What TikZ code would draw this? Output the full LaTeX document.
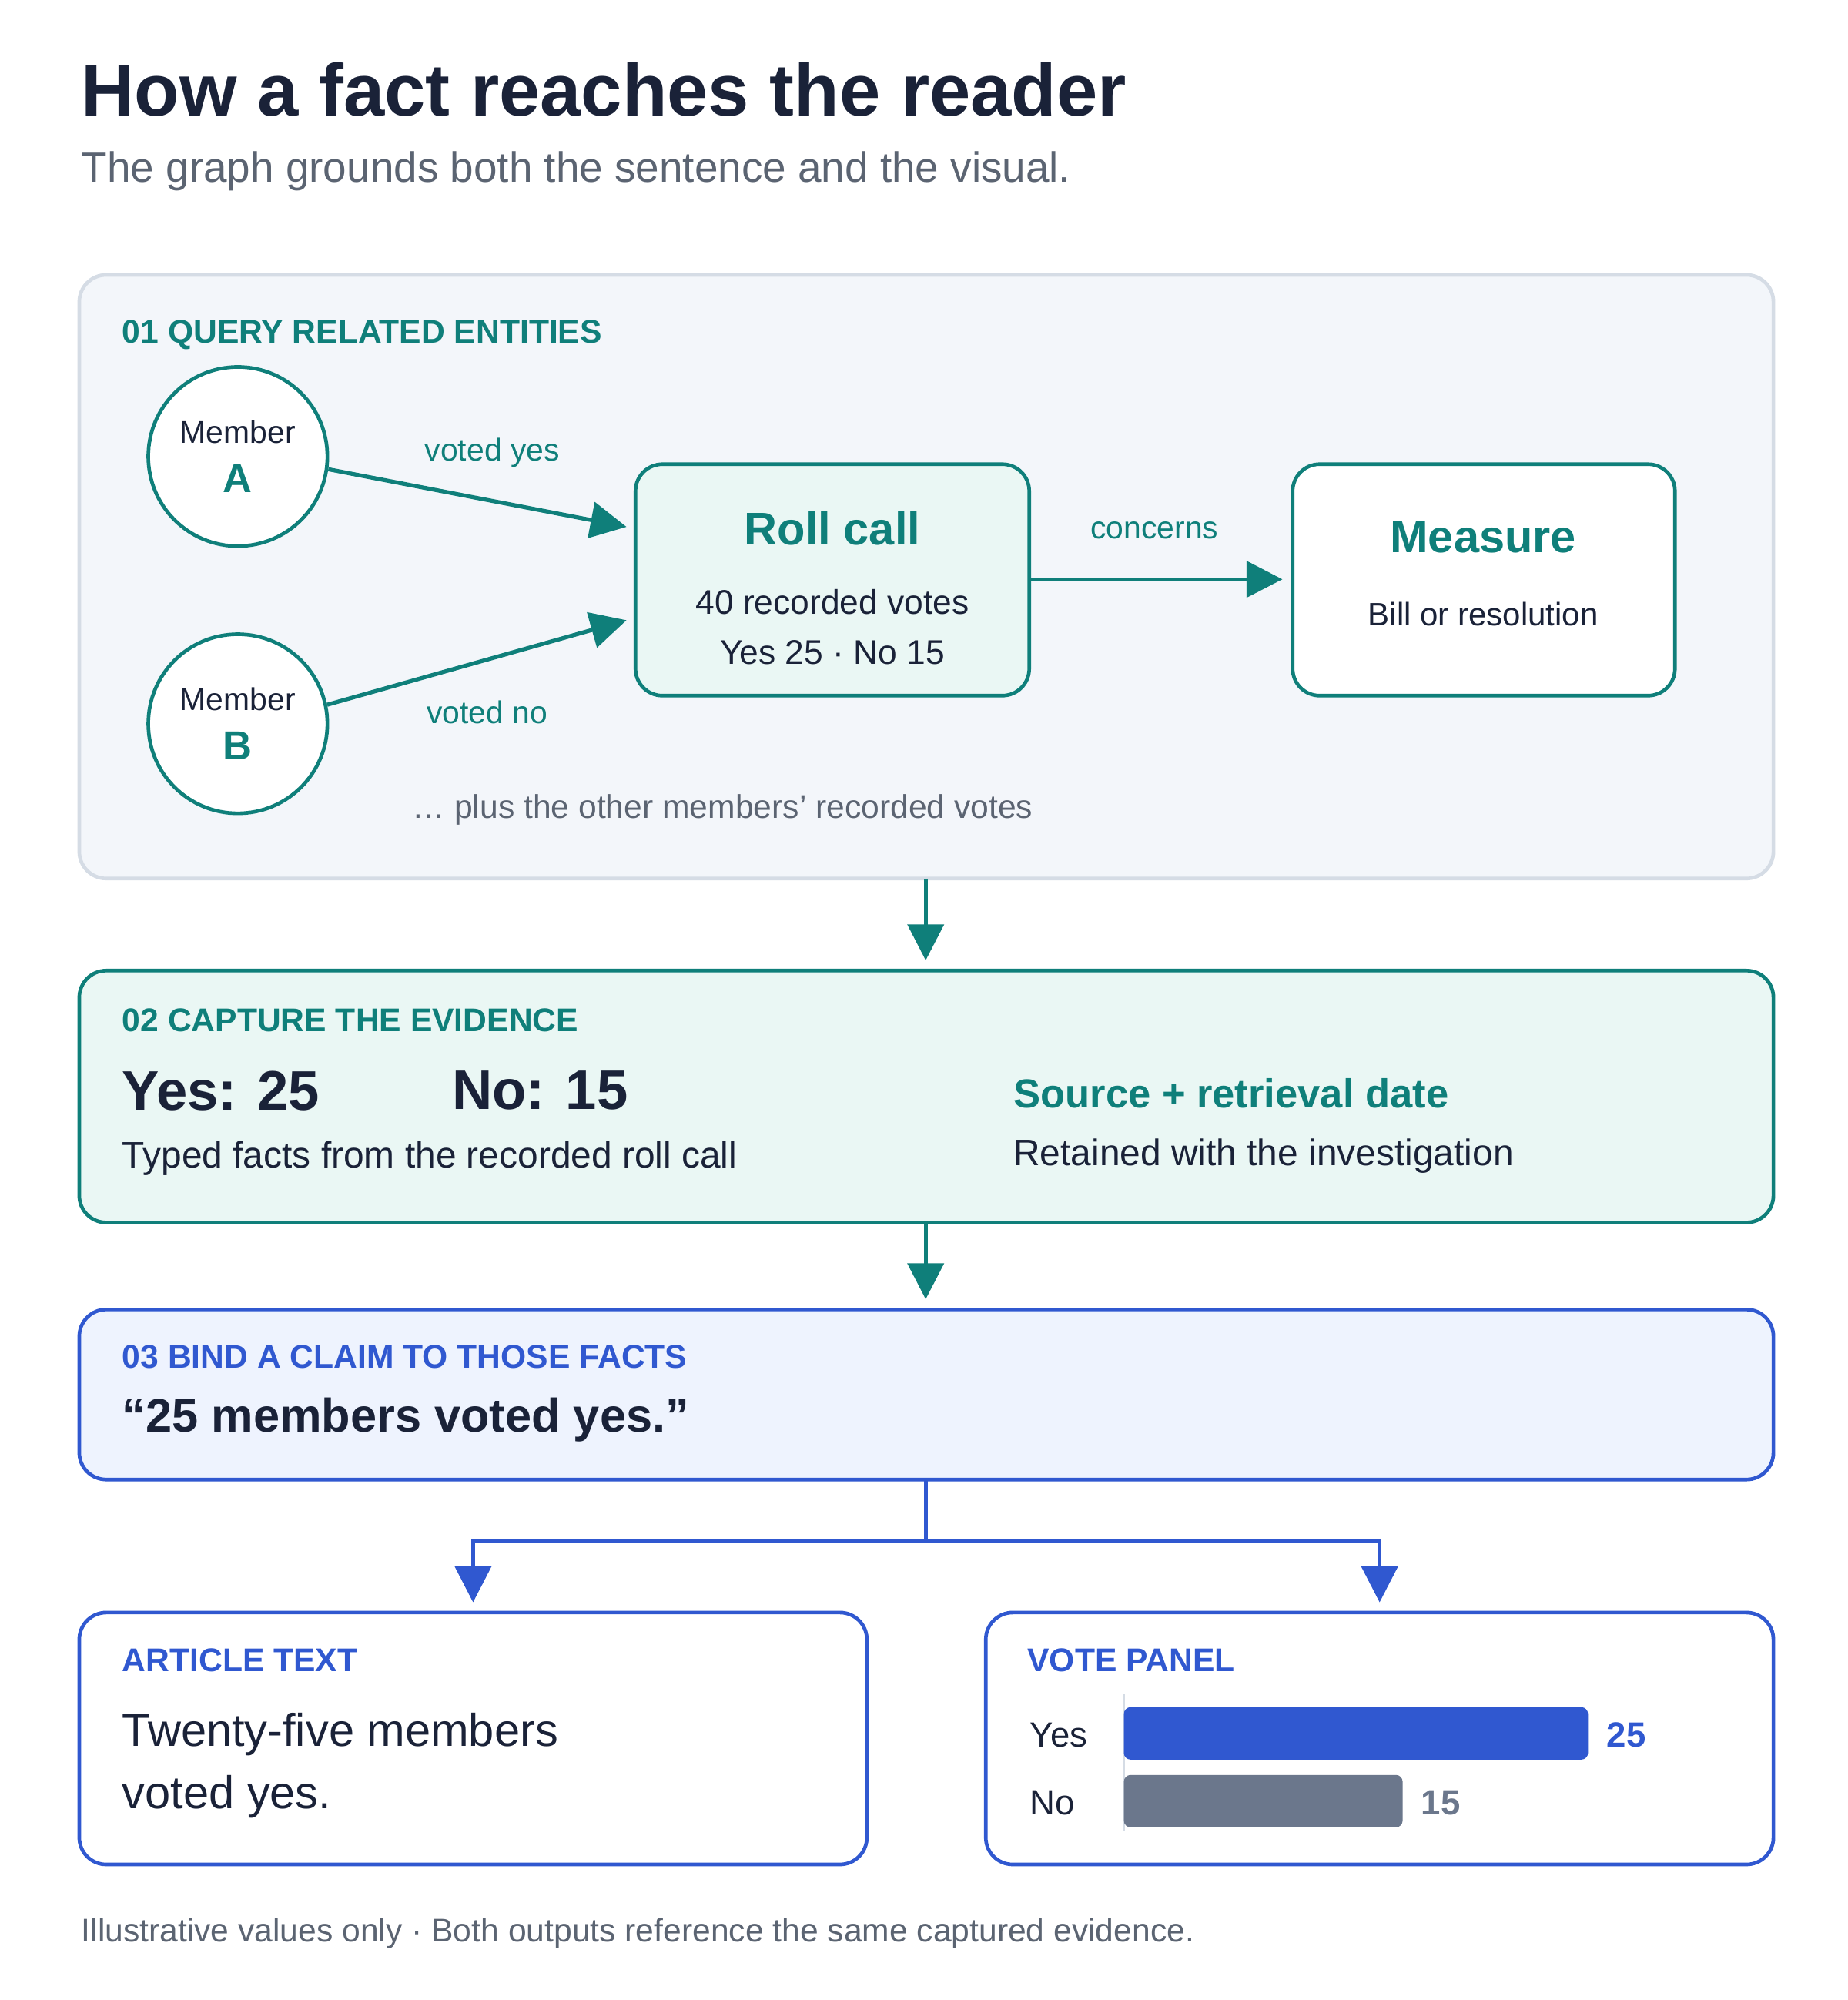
\documentclass[tikz,border=0pt]{standalone}
\usepackage{fontspec}
\setmainfont{Liberation Sans}
\usetikzlibrary{arrows.meta,positioning}
\definecolor{ink}{HTML}{1A2238}
\definecolor{mute}{HTML}{5B6472}
\definecolor{teal}{HTML}{0F7F7A}
\definecolor{tealbg}{HTML}{EAF7F4}
\definecolor{panel}{HTML}{F3F6FA}
\definecolor{edge}{HTML}{D5DCE5}
\definecolor{blu}{HTML}{3058D0}
\definecolor{blubg}{HTML}{EEF3FE}
\definecolor{bargray}{HTML}{6B778C}
\newcommand{\fsz}[1]{\fontsize{#1pt}{#1pt}\selectfont}
\tikzset{
  stage/.style={draw, rounded corners=6pt, line width=0.8pt},
  entity/.style={circle, draw=teal, line width=0.8pt, fill=white, minimum size=1.4cm, inner sep=0pt, align=center, text=ink},
  flow/.style={-{Triangle[length=8pt,width=8pt]}, line width=0.9pt},
  tag/.style={anchor=west, font=\fsz{7.3}\bfseries, inner sep=0pt},
  txt/.style={anchor=west, inner sep=0pt, text=ink},
}
\begin{document}
\begin{tikzpicture}[x=0.01cm, y=-0.01cm]
	\useasboundingbox[fill=white] (0,0) rectangle (1445,1564);
	% title
	\node[txt, font=\fsz{16.4}\bfseries] (title) at (63,70) {How a fact reaches the reader};
	\node[txt, text=mute, font=\fsz{9.4}] (subtitle) at (63,134) {The graph grounds both the sentence and the visual.};
	
	% stage 1
	\draw[stage, draw=edge, fill=panel] (62,215) rectangle (1387,687);
	\node[tag, text=teal] (t1) at (95,262) {01 QUERY RELATED ENTITIES};
	\node[entity] (memA) at (186,357) {\fsz{7}Member\\[-1pt]{\fsz{9}\bfseries\color{teal}A}};
	\node[entity] (memB) at (186,566) {\fsz{7}Member\\[-1pt]{\fsz{9}\bfseries\color{teal}B}};
	\draw[stage, draw=teal, fill=tealbg] (497,363) rectangle (805,544);
	\node[inner sep=0pt, text=teal, font=\fsz{10.2}\bfseries] (roll) at (651,413) {Roll call};
	\node[inner sep=0pt, text=ink, font=\fsz{7.6}] (rollv) at (651,471) {40 recorded votes};
	\node[inner sep=0pt, text=ink, font=\fsz{7.6}] (rolls) at (651,510) {Yes 25 · No 15};
	\draw[stage, draw=teal, fill=white] (1011,363) rectangle (1310,544);
	\node[inner sep=0pt, text=teal, font=\fsz{10.2}\bfseries] (meas) at (1160,420) {Measure};
	\node[inner sep=0pt, text=ink, font=\fsz{7.2}] (measv) at (1160,480) {Bill or resolution};
	\coordinate (rollA) at (490,412);
	\coordinate (rollB) at (490,485);
	\coordinate (rollR) at (805,453);
	\coordinate (measL) at (1003,453);
	\draw[flow, teal] (memA.-8) -- (rollA);
	\draw[flow, teal] (memB.12) -- (rollB);
	\draw[flow, teal] (rollR) -- (measL);
	\node[inner sep=0pt, text=teal, font=\fsz{7}] (lyes) at (385,354) {voted yes};
	\node[inner sep=0pt, text=teal, font=\fsz{7}] (lno) at (381,557) {voted no};
	\node[inner sep=0pt, text=teal, font=\fsz{7}] (lcon) at (903,415) {concerns};
	\node[txt, text=mute, font=\fsz{7.3}] (more) at (322,633) {… plus the other members’ recorded votes};
	
	% stage 2
	\coordinate (s1b) at (724,687);
	\coordinate (s2t) at (724,751);
	\draw[flow, teal] (s1b) -- (s2t);
	\draw[stage, draw=teal, fill=tealbg] (62,759) rectangle (1387,956);
	\node[tag, text=teal] (t2) at (95,798) {02 CAPTURE THE EVIDENCE};
	\node[txt, font=\fsz{12.4}\bfseries] (yes) at (95,853) {Yes: 25};
	\node[txt, font=\fsz{12.4}\bfseries] (no) at (353,853) {No: 15};
	\node[txt, font=\fsz{8.2}] (typed) at (95,906) {Typed facts from the recorded roll call};
	\node[txt, text=teal, font=\fsz{9}\bfseries] (src) at (792,855) {Source + retrieval date};
	\node[txt, font=\fsz{8.2}] (ret) at (792,904) {Retained with the investigation};
	
	% stage 3
	\coordinate (s2b) at (724,956);
	\coordinate (s3t) at (724,1016);
	\draw[flow, teal] (s2b) -- (s3t);
	\draw[stage, draw=blu, fill=blubg] (62,1024) rectangle (1387,1157);
	\node[tag, text=blu] (t3) at (95,1061) {03 BIND A CLAIM TO THOSE FACTS};
	\node[txt, font=\fsz{10.5}\bfseries] (claim) at (95,1110) {“25 members voted yes.”};
	
	% outputs
	\coordinate (s3b) at (724,1157);
	\coordinate (split) at (724,1205);
	\coordinate (artT) at (370,1253);
	\coordinate (panT) at (1079,1253);
	\draw[blu, line width=0.9pt] (s3b) -- (split);
	\draw[flow, blu] (split) -| (artT);
	\draw[flow, blu] (split) -| (panT);
	\draw[stage, draw=blu, fill=white] (62,1261) rectangle (678,1458);
	\node[tag, text=blu] (t4) at (95,1298) {ARTICLE TEXT};
	\node[txt, font=\fsz{10.2}] (art1) at (95,1356) {Twenty-five members};
	\node[txt, font=\fsz{10.2}] (art2) at (95,1405) {voted yes.};
	\draw[stage, draw=blu, fill=white] (771,1261) rectangle (1387,1458);
	\node[tag, text=blu] (t5) at (803,1298) {VOTE PANEL};
	\draw[edge, line width=0.6pt] (879,1325) -- (879,1432);
	\fill[blu, rounded corners=1.5pt] (879,1335) rectangle (1242,1376);
	\fill[bargray, rounded corners=1.5pt] (879,1388) rectangle (1097,1429);
	\node[txt, font=\fsz{7.8}] (byes) at (805,1357) {Yes};
	\node[txt, font=\fsz{7.8}] (bno) at (805,1410) {No};
	\node[txt, text=blu, font=\fsz{7.8}\bfseries] (v25) at (1256,1357) {25};
	\node[txt, text=bargray, font=\fsz{7.8}\bfseries] (v15) at (1111,1410) {15};
	
	% footer
	\node[txt, text=mute, font=\fsz{7.3}] (foot) at (63,1512) {Illustrative values only · Both outputs reference the same captured evidence.};
\end{tikzpicture}
\end{document}
